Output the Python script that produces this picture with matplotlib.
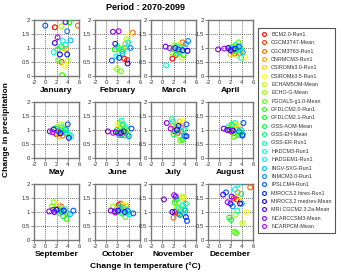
import colorsys
import numpy as np
import matplotlib
matplotlib.use("Agg")
import matplotlib.pyplot as plt
from matplotlib.lines import Line2D

plt.rcParams['font.family'] = ['Liberation Sans', 'DejaVu Sans']

models = ["BCM2.0-Run1", "CGCM3T47-Mean", "CGCM3T63-Run1", "CNRMCM3-Run1",
          "CSIROMk3.0-Run1", "CSIROMk3.5-Run1", "ECHAM5OM-Mean", "ECHO-G-Mean",
          "FGOALS-g1.0-Mean", "GFDLCM2.0-Run1", "GFDLCM2.1-Run1", "GISS-AOM-Mean",
          "GISS-EH-Mean", "GISS-ER-Run1", "HADCM3-Run1", "HADGEM1-Run1",
          "INGV-SXG-Run1", "INMCM3.0-Run1", "IPSLCM4-Run1", "MIROC3.2 hires-Run1",
          "MIROC3.2 medres-Mean", "MRI CGCM2.3.2a-Mean", "NCARCCSM3-Mean", "NCARPCM-Mean"]

months = ["January", "February", "March", "April", "May", "June",
          "July", "August", "September", "October", "November", "December"]

# change in temperature (°C), one list per month, one value per model
dT_jan = [1.7, 2.9, 5.8, 3.7, 3.2, 3.4, 4.0, 2.9, 2.3, 3.0, 4.3, 2.2, 2.8, 3.6, 1.5, 3.1, 4.5, 3.9, 0.0, 3.9, 2.6, 1.7, 3.6, 2.2]
dP_jan = [1.74, 0.5, 1.8, 0.97, 1.0, 0.37, 0.55, 1.78, 0.57, 0.03, 1.92, 0.95, 1.05, 1.12, 0.85, 1.25, 1.27, 1.6, 1.8, 0.77, 0.77, 1.18, 1.93, 1.38]
dT_feb = [3.2, 3.7, 4.7, 3.4, 3.0, 4.1, 3.6, 1.9, 2.6, 2.3, 1.5, 2.8, 3.3, 2.0, 1.8, 3.9, 2.9, 4.3, 1.0, 2.3, 3.8, 1.6, 1.2, 2.2]
dP_feb = [0.62, 0.57, 1.55, 1.15, 0.9, 1.45, 1.3, 0.25, 0.17, 0.98, 0.95, 0.88, 1.0, 1.05, 0.7, 1.2, 0.8, 1.0, 0.55, 0.65, 0.45, 1.15, 1.58, 1.6]
dT_mar = [1.8, 2.4, 3.6, 4.0, 3.2, 2.8, 3.5, 2.2, 1.8, 2.6, 3.8, 2.0, 3.0, 2.6, 0.7, 3.3, 4.2, 4.6, 2.9, 3.6, 4.5, 2.3, 0.6, 1.3]
dP_mar = [0.62, 0.75, 1.2, 1.0, 0.9, 1.1, 0.65, 1.1, 0.82, 0.8, 0.75, 0.95, 0.85, 1.05, 0.38, 1.0, 1.15, 1.25, 0.95, 0.92, 0.9, 1.0, 1.05, 1.0]
dT_apr = [2.3, 2.7, 3.6, 4.0, 2.0, 4.5, 3.2, 2.6, 3.4, 1.8, 3.0, 2.2, 3.7, 2.9, 3.9, 3.3, 4.2, 2.5, 3.5, 2.8, 1.6, 2.0, -0.2, 0.9]
dP_apr = [0.88, 0.8, 0.82, 0.9, 0.78, 0.68, 0.75, 1.05, 1.2, 0.95, 0.9, 1.02, 1.0, 1.1, 0.65, 0.95, 0.85, 0.95, 1.05, 0.98, 1.0, 0.92, 0.95, 0.98]
dT_may = [2.0, 2.6, 3.1, 3.6, 2.4, 3.3, 2.8, 2.1, 3.4, 2.5, 3.0, 1.8, 3.8, 4.3, 4.6, 2.9, 3.7, 2.3, 4.0, 4.2, 2.7, 1.5, 0.8, 1.3]
dP_may = [0.85, 0.92, 0.8, 0.88, 0.78, 1.15, 1.2, 1.1, 1.05, 1.0, 0.95, 1.05, 0.9, 0.82, 0.78, 1.1, 1.0, 0.95, 1.2, 0.72, 0.88, 1.02, 0.95, 0.92]
dT_jun = [2.2, 2.8, 3.4, 2.5, 3.0, 2.0, 3.6, 2.4, 2.7, 3.2, 1.9, 3.8, 2.9, 3.3, 2.7, 3.5, 2.3, 4.0, 4.5, 3.1, 2.6, 1.7, 0.3, 1.2]
dP_jun = [0.88, 0.82, 0.9, 1.05, 1.15, 1.2, 1.0, 1.25, 0.95, 1.05, 1.0, 0.85, 1.2, 0.8, 1.33, 1.1, 0.82, 0.78, 1.05, 0.95, 0.9, 0.92, 0.95, 0.9]
dT_jul = [2.2, 2.8, 3.3, 1.8, 3.1, 3.6, 2.5, 3.0, 3.2, 3.6, 2.7, 2.0, 3.9, 1.9, 1.7, 2.4, 3.4, 4.0, 4.3, 4.3, 2.6, 2.9, 0.8, 1.5]
dP_jul = [0.95, 0.9, 1.1, 1.15, 1.3, 1.32, 1.2, 0.8, 0.62, 0.65, 1.05, 0.85, 1.0, 1.3, 1.38, 1.1, 0.95, 0.78, 1.2, 0.78, 1.0, 1.15, 1.25, 1.05]
dT_aug = [2.1, 2.6, 3.1, 2.4, 3.6, 3.0, 1.9, 2.8, 2.6, 3.4, 3.8, 2.2, 3.2, 1.6, 2.8, 3.9, 4.2, 3.5, 4.3, 4.1, 2.4, 1.4, 0.8, 1.8]
dP_aug = [0.95, 0.9, 1.05, 1.15, 1.1, 1.2, 1.05, 0.8, 0.75, 0.82, 0.9, 1.2, 1.0, 1.1, 1.25, 1.0, 0.85, 0.95, 1.25, 0.8, 0.98, 1.0, 1.05, 1.0]
dT_sep = [2.2, 2.8, 3.4, 2.6, 3.0, 2.1, 3.6, 1.5, 1.2, 3.8, 2.4, 3.2, 1.8, 2.7, 3.5, 4.0, 4.4, 2.9, 5.0, 3.3, 2.0, 1.6, 0.7, 1.4]
dP_sep = [1.1, 1.2, 1.0, 0.95, 1.15, 1.25, 0.9, 1.35, 1.2, 0.75, 1.05, 0.85, 1.0, 1.1, 1.1, 0.95, 0.92, 1.0, 1.05, 1.05, 1.08, 1.0, 1.02, 1.08]
dT_oct = [2.2, 2.5, 3.0, 3.6, 2.7, 3.2, 1.8, 1.2, 3.4, 2.8, 2.0, 3.9, 2.4, 3.1, 3.5, 4.1, 2.6, 3.8, 4.8, 3.3, 2.1, 1.5, 0.8, 1.6]
dP_oct = [1.25, 1.3, 1.15, 1.2, 1.05, 1.25, 1.1, 1.2, 0.82, 0.95, 1.0, 1.0, 1.2, 0.95, 1.1, 0.92, 1.1, 1.05, 0.95, 1.0, 1.05, 1.02, 1.05, 0.98]
dT_nov = [2.3, 2.8, 2.0, 3.3, 3.8, 3.0, 3.6, 2.6, 3.2, 2.2, 3.9, 2.5, 4.2, 3.4, 3.6, 2.9, 4.1, 3.1, 4.4, 4.2, 1.8, 2.4, 0.3, 2.1]
dP_nov = [1.0, 0.95, 0.8, 1.1, 1.5, 1.3, 1.55, 1.2, 0.9, 1.35, 1.1, 1.45, 1.3, 1.0, 1.25, 1.15, 1.05, 0.9, 0.68, 0.82, 1.0, 1.55, 1.45, 1.6]
dT_dec = [3.1, 2.6, 5.5, 3.3, 3.6, 4.8, 4.1, 2.9, 2.7, 3.0, 1.8, 2.1, 3.9, 3.2, 3.3, 2.8, 4.0, 2.4, 1.2, 2.0, 3.7, 0.7, 2.2, 1.5]
dP_dec = [1.45, 1.5, 1.88, 1.7, 1.4, 1.0, 0.6, 0.9, 0.3, 0.25, 0.8, 0.72, 1.65, 1.05, 1.98, 1.8, 1.3, 1.2, 1.7, 1.3, 1.3, 1.62, 1.55, 1.35]

dT_all = [dT_jan, dT_feb, dT_mar, dT_apr, dT_may, dT_jun, dT_jul, dT_aug, dT_sep, dT_oct, dT_nov, dT_dec]
dP_all = [dP_jan, dP_feb, dP_mar, dP_apr, dP_may, dP_jun, dP_jul, dP_aug, dP_sep, dP_oct, dP_nov, dP_dec]

xticks = [-2, 0, 2, 4, 6]
yticks = [0, 0.5, 1, 1.5, 2]
yticklabels = ["0", "0.5", "1", "1.5", "2"]

n = len(models)
colors = [colorsys.hsv_to_rgb(0.78 * i / (n - 1), 1.0, 1.0) for i in range(n)]

W, H = 341, 272
fig = plt.figure(figsize=(W / 100, H / 100), dpi=100)

col_left = [34, 95, 151, 208]
row_top = [20, 102, 184]
aw, ah = 45, 56

for k, month in enumerate(months):
    r, c = divmod(k, 4)
    ax = fig.add_axes([col_left[c] / W, 1 - (row_top[r] + ah) / H, aw / W, ah / H])
    ax.scatter(dT_all[k], dP_all[k], s=12, facecolors='none', edgecolors=colors,
               linewidths=0.8, zorder=3)
    ax.set_xlim(-2, 6)
    ax.set_ylim(0, 2)
    ax.set_xticks(xticks)
    ax.set_xticklabels([str(t) for t in xticks])
    ax.set_yticks(yticks)
    ax.set_yticklabels(yticklabels)
    ax.grid(True, linestyle=(0, (1.5, 1.5)), color='#444444', linewidth=0.5)
    ax.tick_params(labelsize=4.3, length=2, width=0.5, pad=1, colors='#555555',
                   labelcolor='#333333')
    for sp in ax.spines.values():
        sp.set_color('#777777')
        sp.set_linewidth(1.0)
    ax.set_xlabel(month, fontsize=6, fontweight='bold', labelpad=1.5)

fig.text(145 / W, 1 - 8 / H, "Period : 2070-2099", ha='center', va='center',
         fontsize=6.5, fontweight='bold')
fig.text(7 / W, 1 - 130 / H, "Change in precipitation", rotation=90,
         ha='center', va='center', fontsize=6, fontweight='bold')
fig.text(145 / W, 1 - 266 / H, "Change in temperature (°C)", ha='center',
         va='center', fontsize=6, fontweight='bold')

handles = [Line2D([], [], linestyle='none', marker='o', markersize=2.8,
                  markerfacecolor='none', markeredgecolor=colors[i],
                  markeredgewidth=0.8) for i in range(n)]
leg = fig.legend(handles, models, loc='upper left',
                 bbox_to_anchor=(258 / W, 1 - 28 / H), borderaxespad=0,
                 fontsize=3.9, labelspacing=0.62, handletextpad=0.9,
                 handlelength=0.8, borderpad=0.7, fancybox=False,
                 framealpha=1, edgecolor='#555555')
leg.get_frame().set_linewidth(0.8)
for t in leg.get_texts():
    t.set_color('#333333')

fig.savefig("out.png", dpi=100)
